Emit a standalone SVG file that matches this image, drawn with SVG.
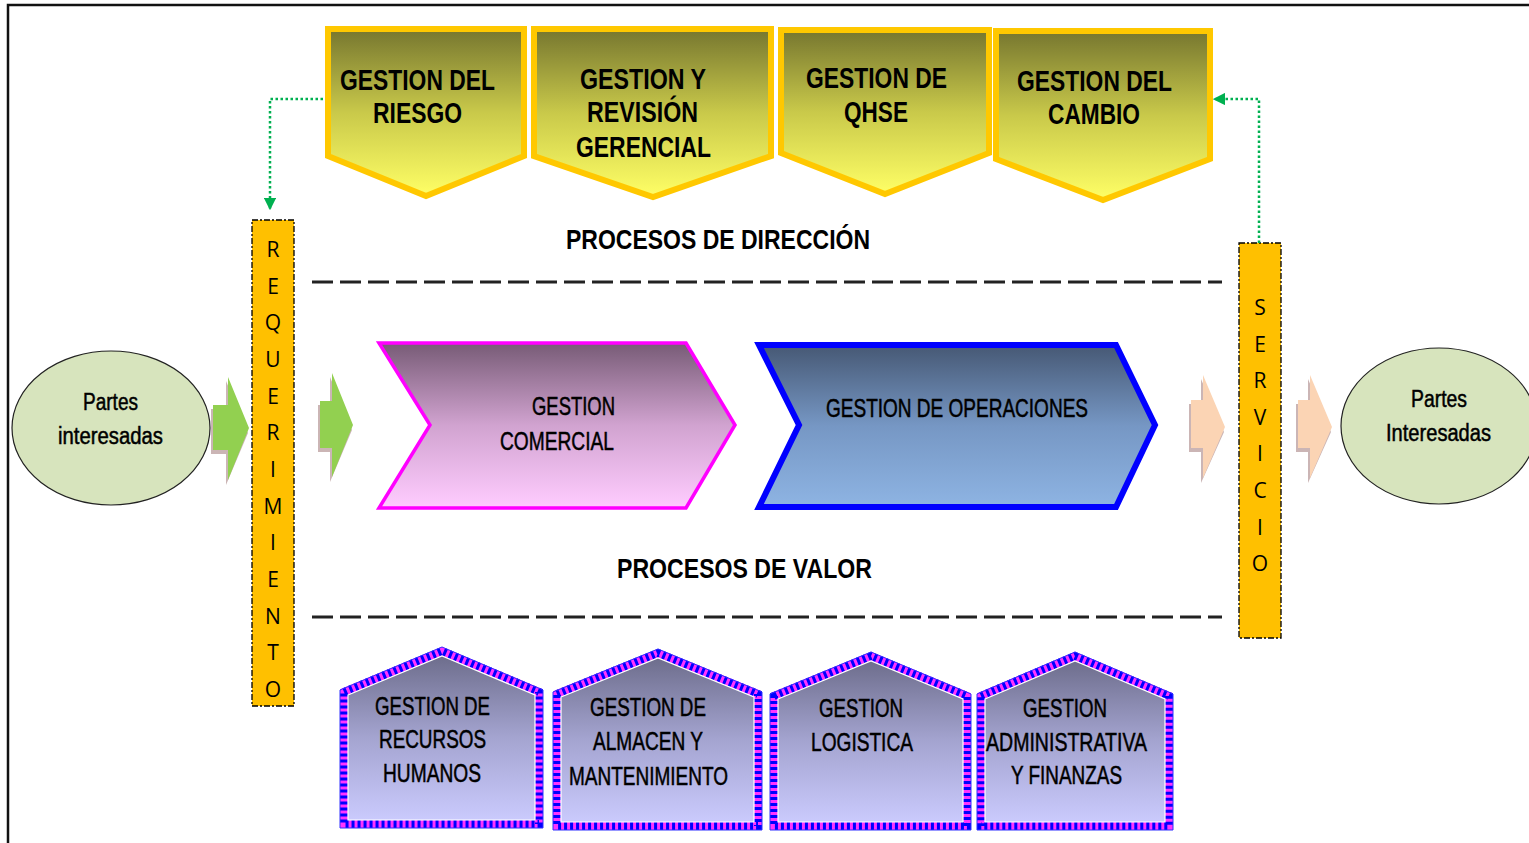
<svg xmlns="http://www.w3.org/2000/svg" width="1529" height="843" viewBox="0 0 1529 843">
<defs>
<linearGradient id="gTop" x1="0" y1="0" x2="0" y2="1">
<stop offset="0" stop-color="#76762f"/><stop offset="0.5" stop-color="#c9c94a"/><stop offset="1" stop-color="#ffff66"/>
</linearGradient>
<linearGradient id="gCom" x1="0" y1="0" x2="0" y2="1">
<stop offset="0" stop-color="#775b76"/><stop offset="0.5" stop-color="#d1a3d0"/><stop offset="1" stop-color="#ffccff"/>
</linearGradient>
<linearGradient id="gOp" x1="0" y1="0" x2="0" y2="1">
<stop offset="0" stop-color="#465874"/><stop offset="0.5" stop-color="#7697c4"/><stop offset="1" stop-color="#8eb4e3"/>
</linearGradient>
<linearGradient id="gHouse" x1="0" y1="0" x2="0" y2="1">
<stop offset="0" stop-color="#6a6a88"/><stop offset="0.5" stop-color="#a4a4d0"/><stop offset="1" stop-color="#ccccff"/>
</linearGradient>
<marker id="arrG" viewBox="0 0 10 10" refX="9" refY="5" markerWidth="5" markerHeight="5" orient="auto" markerUnits="strokeWidth">
<path d="M0,0 L10,5 L0,10 z" fill="#00b050"/>
</marker>
<style>
.frame{fill:none;stroke:#111;stroke-width:2.5}
.pent{fill:url(#gTop);stroke:#ffc800;stroke-width:6;stroke-linejoin:miter}
.tb{font-family:"Liberation Sans",Arial,sans-serif;font-weight:bold;font-size:29px;fill:#000}
.nt{font-family:"Liberation Sans",Arial,sans-serif;font-size:25px;fill:#000;stroke:#000;stroke-width:0.5}
.lbl{font-family:"Liberation Sans",Arial,sans-serif;font-weight:bold;font-size:28px;fill:#000}
.bar{fill:#ffc000;stroke:#000;stroke-width:1.3;stroke-dasharray:6 2 2 2}
.bl{font-family:"Open Sans","Liberation Sans",sans-serif;font-size:21px;fill:#000;text-anchor:middle}
.ell{fill:#d7e4bd;stroke:#222;stroke-width:1.2}
.et{font-family:"Liberation Sans",Arial,sans-serif;font-size:23px;fill:#000;stroke:#000;stroke-width:0.5}
.dash{stroke:#222;stroke-width:3;stroke-dasharray:21 7;fill:none}
.conn{fill:none;stroke:#00b050;stroke-width:2.5;stroke-dasharray:2.5 2.5}
.hOut{fill:none;stroke:#3030ff;stroke-width:1}
.hMag{fill:url(#gHouse);stroke:#ff33ff;stroke-width:8}
.hBlu{fill:none;stroke:#0000ff;stroke-width:8;stroke-dasharray:3 3}
.hWh{fill:none;stroke:#ffffff;stroke-width:1.2}
.gArr{fill:#92d050}
.pArr{fill:#fbd4b4}
.shd{fill:#a07878;opacity:0.55}
</style>
</defs>

<g id="frame">
<path class="frame" d="M8,843 L8,5 L1529,5"/>
</g>

<g id="dividers">
<line class="dash" x1="312" y1="282" x2="1222" y2="282"/>
<line class="dash" x1="312" y1="617" x2="1222" y2="617"/>
</g>

<g id="gestion-riesgo">
<polygon class="pent" points="328,29 524,29 524,156 426,196 328,156"/>
<text class="tb" x="340" y="90" textLength="155" lengthAdjust="spacingAndGlyphs">GESTION DEL</text>
<text class="tb" x="373" y="123" textLength="89" lengthAdjust="spacingAndGlyphs">RIESGO</text>
</g>
<g id="gestion-revision">
<polygon class="pent" points="534,29 771,29 771,156 653,197 534,156"/>
<text class="tb" x="580" y="89" textLength="126" lengthAdjust="spacingAndGlyphs">GESTION Y</text>
<text class="tb" x="587" y="122" textLength="111" lengthAdjust="spacingAndGlyphs">REVISIÓN</text>
<text class="tb" x="576" y="157" textLength="135" lengthAdjust="spacingAndGlyphs">GERENCIAL</text>
</g>
<g id="gestion-qhse">
<polygon class="pent" points="781,30 989,30 989,153 885,194 781,153"/>
<text class="tb" x="806" y="88" textLength="141" lengthAdjust="spacingAndGlyphs">GESTION DE</text>
<text class="tb" x="844" y="122" textLength="64" lengthAdjust="spacingAndGlyphs">QHSE</text>
</g>
<g id="gestion-cambio">
<polygon class="pent" points="996,31 1210,31 1210,159 1103,200 996,159"/>
<text class="tb" x="1017" y="91" textLength="155" lengthAdjust="spacingAndGlyphs">GESTION DEL</text>
<text class="tb" x="1048" y="124" textLength="92" lengthAdjust="spacingAndGlyphs">CAMBIO</text>
</g>

<g id="label-direccion">
<text class="lbl" x="566" y="249" textLength="304" lengthAdjust="spacingAndGlyphs">PROCESOS DE DIRECCIÓN</text>
</g>
<g id="label-valor">
<text class="lbl" x="617" y="578" textLength="255" lengthAdjust="spacingAndGlyphs">PROCESOS DE VALOR</text>
</g>

<g id="requerimiento">
<rect class="bar" x="252" y="220" width="42" height="486"/>
<text class="bl" x="273" y="257">R</text>
<text class="bl" x="273" y="294">E</text>
<text class="bl" x="273" y="330">Q</text>
<text class="bl" x="273" y="367">U</text>
<text class="bl" x="273" y="404">E</text>
<text class="bl" x="273" y="440">R</text>
<text class="bl" x="273" y="477">I</text>
<text class="bl" x="273" y="514">M</text>
<text class="bl" x="273" y="550">I</text>
<text class="bl" x="273" y="587">E</text>
<text class="bl" x="273" y="624">N</text>
<text class="bl" x="273" y="660">T</text>
<text class="bl" x="273" y="697">O</text>
</g>

<g id="servicio">
<rect class="bar" x="1239" y="243" width="42" height="395"/>
<text class="bl" x="1260" y="315">S</text>
<text class="bl" x="1260" y="352">E</text>
<text class="bl" x="1260" y="388">R</text>
<text class="bl" x="1260" y="425">V</text>
<text class="bl" x="1260" y="461">I</text>
<text class="bl" x="1260" y="498">C</text>
<text class="bl" x="1260" y="535">I</text>
<text class="bl" x="1260" y="571">O</text>
</g>

<g id="partes-interesadas-in">
<ellipse class="ell" cx="111" cy="428" rx="99" ry="77"/>
<text class="et" x="83" y="410" textLength="55" lengthAdjust="spacingAndGlyphs">Partes</text>
<text class="et" x="58" y="444" textLength="105" lengthAdjust="spacingAndGlyphs">interesadas</text>
</g>
<g id="partes-interesadas-out">
<ellipse class="ell" cx="1439" cy="426" rx="98" ry="78"/>
<text class="et" x="1411" y="407" textLength="56" lengthAdjust="spacingAndGlyphs">Partes</text>
<text class="et" x="1386" y="441" textLength="105" lengthAdjust="spacingAndGlyphs">Interesadas</text>
</g>

<g id="gestion-comercial">
<polygon points="379,343 686,343 735,425 686,508 379,508 430,425" fill="url(#gCom)" stroke="#ff00ff" stroke-width="3.5" stroke-linejoin="miter"/>
<text class="nt" x="532" y="415" textLength="83" lengthAdjust="spacingAndGlyphs">GESTION</text>
<text class="nt" x="500" y="450" textLength="114" lengthAdjust="spacingAndGlyphs">COMERCIAL</text>
</g>
<g id="gestion-operaciones">
<polygon points="759,345 1116,345 1155,425 1116,507 759,507 799,425" fill="url(#gOp)" stroke="#0000ff" stroke-width="6" stroke-linejoin="miter"/>
<text class="nt" x="826" y="417" textLength="262" lengthAdjust="spacingAndGlyphs">GESTION DE OPERACIONES</text>
</g>

<g id="rrhh">
<polygon class="hMag" points="344,692 442,651 539,692 539,824 344,824"/>
<polygon class="hBlu" points="344,692 442,651 539,692 539,824 344,824"/>
<polygon class="hWh" points="348,695 442,656 535,695 535,820 348,820"/>
<polygon class="hOut" points="340,690 442,647 543,690 543,828 340,828"/>
<text class="nt" x="375" y="715" textLength="115" lengthAdjust="spacingAndGlyphs">GESTION DE</text>
<text class="nt" x="379" y="748" textLength="107" lengthAdjust="spacingAndGlyphs">RECURSOS</text>
<text class="nt" x="383" y="782" textLength="98" lengthAdjust="spacingAndGlyphs">HUMANOS</text>
</g>
<g id="almacen">
<polygon class="hMag" points="557,694 658,653 758,694 758,826 557,826"/>
<polygon class="hBlu" points="557,694 658,653 758,694 758,826 557,826"/>
<polygon class="hWh" points="561,697 658,658 754,697 754,822 561,822"/>
<polygon class="hOut" points="553,692 658,649 762,692 762,830 553,830"/>
<text class="nt" x="590" y="716" textLength="116" lengthAdjust="spacingAndGlyphs">GESTION DE</text>
<text class="nt" x="593" y="750" textLength="110" lengthAdjust="spacingAndGlyphs">ALMACEN Y</text>
<text class="nt" x="569" y="785" textLength="159" lengthAdjust="spacingAndGlyphs">MANTENIMIENTO</text>
</g>
<g id="logistica">
<polygon class="hMag" points="774,696 871,656 967,696 967,826 774,826"/>
<polygon class="hBlu" points="774,696 871,656 967,696 967,826 774,826"/>
<polygon class="hWh" points="778,699 871,661 963,699 963,822 778,822"/>
<polygon class="hOut" points="770,694 871,652 971,694 971,830 770,830"/>
<text class="nt" x="819" y="717" textLength="84" lengthAdjust="spacingAndGlyphs">GESTION</text>
<text class="nt" x="811" y="751" textLength="102" lengthAdjust="spacingAndGlyphs">LOGISTICA</text>
</g>
<g id="administrativa">
<polygon class="hMag" points="981,696 1075,656 1169,696 1169,826 981,826"/>
<polygon class="hBlu" points="981,696 1075,656 1169,696 1169,826 981,826"/>
<polygon class="hWh" points="985,699 1075,661 1165,699 1165,822 985,822"/>
<polygon class="hOut" points="977,694 1075,652 1173,694 1173,830 977,830"/>
<text class="nt" x="1023" y="717" textLength="84" lengthAdjust="spacingAndGlyphs">GESTION</text>
<text class="nt" x="986" y="751" textLength="161" lengthAdjust="spacingAndGlyphs">ADMINISTRATIVA</text>
<text class="nt" x="1011" y="784" textLength="111" lengthAdjust="spacingAndGlyphs">Y FINANZAS</text>
</g>

<g id="connectors">
<polyline class="conn" points="323,99 270,99 270,209" marker-end="url(#arrG)"/>
<polyline class="conn" points="1259,243 1259,99 1214,99" marker-end="url(#arrG)"/>
<g id="arrow-in-1">
<polygon class="shd" points="211,409 226,409 226,381 248,433 226,485 226,454 211,454"/>
<polygon class="gArr" points="213,405 228,405 228,377 249,428 228,480 228,450 213,450"/>
</g>
<g id="arrow-in-2">
<polygon class="shd" points="318,405 330,405 330,377 352,430 330,482 330,452 318,452"/>
<polygon class="gArr" points="320,401 332,401 332,373 353,425 332,477 332,448 320,448"/>
</g>
<g id="arrow-out-1">
<polygon class="shd" points="1189,404 1201,404 1201,379 1224,432 1201,483 1201,452 1189,452"/>
<polygon class="pArr" points="1191,400 1203,400 1203,375 1225,427 1203,478 1203,448 1191,448"/>
</g>
<g id="arrow-out-2">
<polygon class="shd" points="1296,404 1308,404 1308,379 1331,432 1308,483 1308,452 1296,452"/>
<polygon class="pArr" points="1298,400 1310,400 1310,375 1332,427 1310,478 1310,448 1298,448"/>
</g>
</g>
</svg>
